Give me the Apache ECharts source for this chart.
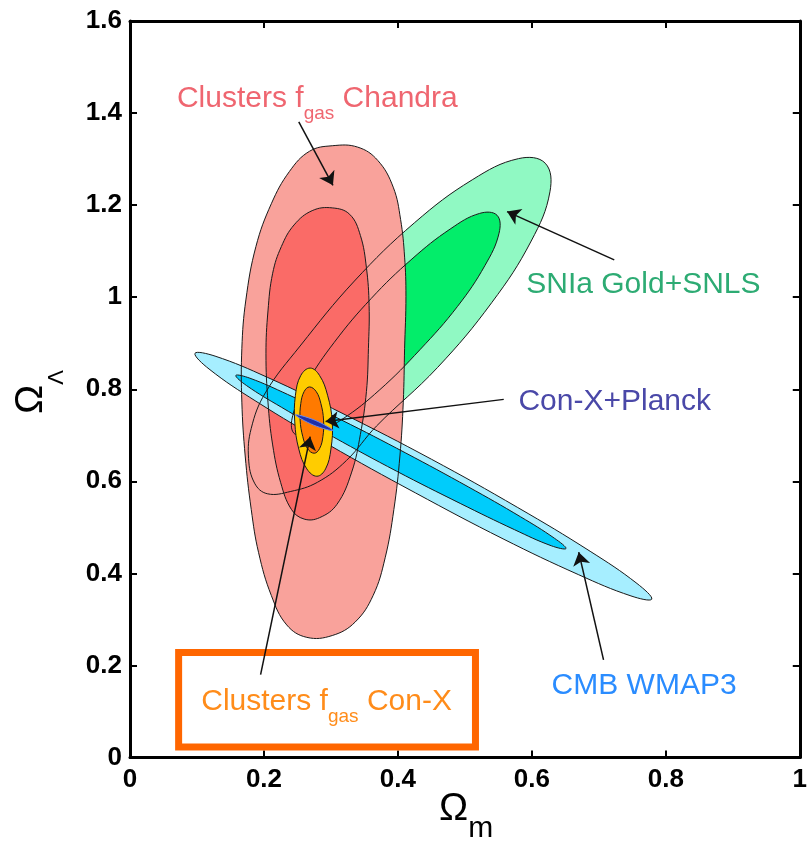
<!DOCTYPE html>
<html><head><meta charset="utf-8">
<script src="https://cdn.jsdelivr.net/npm/echarts@6/dist/echarts.min.js"></script>
<style>html,body{margin:0;padding:0;background:#fff}#c{width:810px;height:842px}</style>
</head><body><div id="c"></div><script>
// ---------- data ----------
const xTickValues = [0, 0.2, 0.4, 0.6, 0.8, 1];
const xTickLabels = ['0', '0.2', '0.4', '0.6', '0.8', '1'];
const yTickValues = [0, 0.2, 0.4, 0.6, 0.8, 1, 1.2, 1.4, 1.6];
const yTickLabels = ['0', '0.2', '0.4', '0.6', '0.8', '1', '1.2', '1.4', '1.6'];

// confidence contours (Omega_m, Omega_Lambda)
const chandraOuter = [[0.302,1.329],[0.340,1.326],[0.370,1.297],[0.393,1.239],[0.404,1.169],[0.410,1.087],[0.412,1.002],[0.410,0.889],[0.408,0.772],[0.403,0.655],[0.394,0.539],[0.381,0.434],[0.363,0.352],[0.336,0.294],[0.302,0.265],[0.264,0.261],[0.234,0.288],[0.211,0.352],[0.192,0.445],[0.181,0.539],[0.172,0.655],[0.167,0.772],[0.167,0.889],[0.173,0.994],[0.188,1.110],[0.211,1.203],[0.238,1.273],[0.268,1.317]];
const chandraInner = [[0.302,1.194],[0.328,1.180],[0.344,1.134],[0.353,1.064],[0.357,0.982],[0.356,0.889],[0.353,0.795],[0.344,0.702],[0.331,0.620],[0.309,0.550],[0.283,0.521],[0.260,0.518],[0.241,0.539],[0.225,0.597],[0.213,0.679],[0.206,0.772],[0.203,0.877],[0.206,0.970],[0.213,1.052],[0.226,1.110],[0.245,1.157],[0.272,1.188]];
const snOuter = [[0.620,1.291],[0.627,1.229],[0.599,1.122],[0.540,0.988],[0.459,0.847],[0.368,0.720],[0.323,0.645],[0.280,0.598],[0.240,0.578],[0.205,0.573],[0.186,0.596],[0.177,0.650],[0.181,0.715],[0.202,0.792],[0.254,0.894],[0.335,1.035],[0.425,1.162],[0.511,1.255],[0.580,1.301]];
const snInner = [[0.548,1.178],[0.551,1.139],[0.530,1.069],[0.489,0.980],[0.433,0.886],[0.373,0.799],[0.316,0.734],[0.271,0.701],[0.245,0.704],[0.243,0.743],[0.264,0.813],[0.305,0.902],[0.360,0.997],[0.421,1.083],[0.478,1.148],[0.522,1.182]];
const cmbOuter = [[0.779,0.344],[0.748,0.351],[0.670,0.397],[0.557,0.475],[0.426,0.575],[0.296,0.680],[0.188,0.774],[0.118,0.844],[0.097,0.878],[0.127,0.872],[0.205,0.826],[0.318,0.747],[0.450,0.648],[0.579,0.543],[0.687,0.448],[0.757,0.378]];
const cmbInner = [[0.651,0.454],[0.629,0.460],[0.574,0.495],[0.493,0.552],[0.398,0.622],[0.304,0.696],[0.226,0.761],[0.174,0.808],[0.158,0.830],[0.179,0.824],[0.235,0.789],[0.316,0.733],[0.411,0.662],[0.505,0.588],[0.583,0.523],[0.634,0.476]];
const conxOuter = [[0.269,0.846],[0.283,0.830],[0.295,0.787],[0.302,0.729],[0.300,0.670],[0.292,0.627],[0.279,0.611],[0.264,0.627],[0.252,0.670],[0.246,0.729],[0.247,0.787],[0.255,0.830]];
const conxInner = [[0.268,0.805],[0.278,0.795],[0.285,0.769],[0.289,0.733],[0.288,0.697],[0.283,0.671],[0.275,0.661],[0.265,0.671],[0.258,0.697],[0.254,0.733],[0.255,0.769],[0.260,0.795]];
const conxPlanck = [[0.247,0.7445],[0.2763,0.7326],[0.303,0.7105],[0.2737,0.7224]];

// annotation arrows: [from, to]
const arrows = [
  [[0.252,1.381],[0.303,1.243]],
  [[0.723,1.081],[0.563,1.186]],
  [[0.558,0.778],[0.292,0.730]],
  [[0.195,0.180],[0.269,0.697]],
  [[0.707,0.212],[0.670,0.446]]
];
const labelTexts = ['{n|Clusters f}{s|gas}{n| Chandra}', '{n|SNIa Gold+SNLS}', '{n|Con-X+Planck}', '{n|CMB WMAP3}', '{n|Clusters f}{s|gas}{n| Con-X}'];
const labelAnchors = [[0.0701,1.4643],[0.5916,1.0604],[0.5799,0.8056],[0.6295,0.1891],[0.1064,0.1542]];
const highlightBox = [[0.0726,0.228],[0.5158,0.0228]];

// ---------- styles ----------
const FONT = '"Liberation Sans", Arial, Helvetica, sans-serif';
const labelColors = ['#EF6670', '#2DAB73', '#4A48A8', '#2A8CFF', '#FF8C1A'];

function polySeries(pts, fill, stroke, z, lw) {
  return {
    type: 'custom', coordinateSystem: 'cartesian2d', silent: true, z: z, clip: true,
    data: pts, encode: { x: 0, y: 1 },
    renderItem: function (params, api) {
      if (params.dataIndex !== 0) return null;
      return {
        type: 'polygon',
        shape: { points: pts.map(function (p) { return api.coord(p); }), smooth: 0.4 },
        style: { fill: fill, stroke: stroke, lineWidth: lw }
      };
    }
  };
}

const series = [
  polySeries(snOuter, '#90F9C3', null, 2, 0),
  polySeries(snInner, '#03ED6A', null, 2, 0),
  polySeries(chandraOuter, '#F9A29B', null, 3, 0),
  polySeries(chandraInner, '#FA6B67', null, 3, 0),
  polySeries(cmbOuter, '#A6EEFF', null, 4, 0),
  polySeries(cmbInner, '#00CCFB', null, 4, 0),
  polySeries(snOuter, 'none', '#1a1a1a', 5, 1),
  polySeries(snInner, 'none', '#1a1a1a', 5, 1),
  polySeries(chandraOuter, 'none', '#1a1a1a', 5, 1),
  polySeries(chandraInner, 'none', '#1a1a1a', 5, 1),
  polySeries(cmbOuter, 'none', '#1a1a1a', 5, 1),
  polySeries(cmbInner, 'none', '#1a1a1a', 5, 1),
  polySeries(conxOuter, '#FFCC00', '#1a1a1a', 6, 1),
  polySeries(conxInner, '#FF7A00', '#1a1a1a', 6, 1),
  polySeries(conxPlanck, '#1F2FA8', '#6688EE', 7, 1),
  {
    type: 'custom', coordinateSystem: 'cartesian2d', silent: true, z: 8, clip: false,
    data: highlightBox, encode: { x: 0, y: 1 },
    renderItem: function (params, api) {
      if (params.dataIndex !== 0) return null;
      const a = api.coord(highlightBox[0]), b = api.coord(highlightBox[1]);
      return { type: 'rect', shape: { x: a[0], y: a[1], width: b[0] - a[0], height: b[1] - a[1] },
        style: { fill: 'none', stroke: '#FF6600', lineWidth: 7 } };
    }
  },
  {
    type: 'lines', coordinateSystem: 'cartesian2d', silent: true, z: 9, polyline: false,
    data: arrows.map(function (c) { return { coords: c }; }),
    symbol: ['none', 'arrow'], symbolSize: 13,
    lineStyle: { color: '#111', width: 1.5, opacity: 1 }
  },
  {
    type: 'custom', coordinateSystem: 'cartesian2d', silent: true, z: 10, clip: false,
    data: labelAnchors, encode: { x: 0, y: 1 },
    renderItem: function (params, api) {
      const i = params.dataIndex;
      const p = api.coord(labelAnchors[i]);
      const c = labelColors[i];
      return {
        type: 'text', x: p[0], y: p[1],
        style: {
          text: labelTexts[i], align: 'left', verticalAlign: 'top',
          rich: {
            n: { fontSize: 30, lineHeight: 30, verticalAlign: 'top', fontFamily: FONT, fill: c },
            s: { fontSize: 19, lineHeight: 19, verticalAlign: 'top', padding: [21, 0, 0, 0], fontFamily: FONT, fill: c }
          }
        }
      };
    }
  }
];

function axisCommon(pos, isX, showLabel) {
  const ticks = isX ? xTickValues : yTickValues;
  const labels = isX ? xTickLabels : yTickLabels;
  return {
    type: 'value', position: pos, min: ticks[0], max: ticks[ticks.length - 1], interval: ticks[1] - ticks[0],
    axisLine: { show: true, onZero: false, lineStyle: { color: '#000', width: 3 } },
    axisTick: { show: true, inside: true, length: 7, lineStyle: { color: '#000', width: 2 } },
    axisLabel: {
      show: showLabel, margin: isX ? 9 : 8, fontSize: 26, fontWeight: 'bold', color: '#000', fontFamily: FONT,
      formatter: function (v) { const k = ticks.findIndex(function (t) { return Math.abs(t - v) < 1e-6; }); return k >= 0 ? labels[k] : ''; }
    },
    splitLine: { show: false }
  };
}

const chart = echarts.init(document.getElementById('c'), null, { renderer: 'canvas' });
chart.setOption({
  animation: false,
  backgroundColor: '#fff',
  grid: { left: 130, top: 21, width: 681.5, height: 736.5, containLabel: false },
  xAxis: [axisCommon('bottom', true, true), axisCommon('top', true, false)],
  yAxis: [axisCommon('left', false, true), axisCommon('right', false, false)],
  graphic: [
    { type: 'text', x: 439, y: 789.3, silent: true, style: { text: '{o|Ω}{m|m}', rich: {
      o: { fontSize: 39, lineHeight: 39, verticalAlign: 'top', fontFamily: FONT, fill: '#000' },
      m: { fontSize: 30, lineHeight: 30, verticalAlign: 'top', padding: [24, 0, 0, 0], fontFamily: FONT, fill: '#000' } } } },
    { type: 'text', x: 12, y: 414, rotation: Math.PI / 2, silent: true, style: { text: '{o|Ω}{l|Λ}', rich: {
      o: { fontSize: 39, lineHeight: 39, verticalAlign: 'top', fontFamily: FONT, fill: '#000' },
      l: { fontSize: 22, lineHeight: 22, verticalAlign: 'top', padding: [34, 0, 0, 0], fontFamily: FONT, fill: '#000' } } } }
  ],
  series: series
});
</script></body></html>
